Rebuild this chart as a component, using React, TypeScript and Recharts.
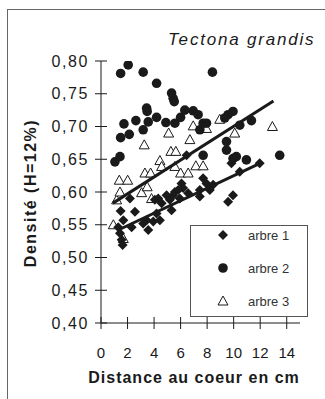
import { Scatter, ScatterChart, XAxis, YAxis } from "recharts";

// [distance (cm), densité]
const arbre1: [number, number][] = [
  [6.45, 0.656], [6.07, 0.613], [5.82, 0.603], [5.44, 0.595], [5.19, 0.588], [5.32, 0.572],
  [4.31, 0.59], [4.57, 0.583], [4.06, 0.588], [2.18, 0.59], [1.48, 0.571], [2.56, 0.57],
  [1.68, 0.557], [1.3, 0.546], [2.31, 0.546], [3.44, 0.557], [3.94, 0.555], [3.56, 0.542],
  [4.44, 0.557], [1.56, 0.527], [1.43, 0.537], [1.63, 0.519], [7.7, 0.621], [7.45, 0.603],
  [7.95, 0.613], [4.94, 0.595], [5.57, 0.6], [5.94, 0.59], [6.19, 0.606], [6.57, 0.598],
  [7.45, 0.593], [8.2, 0.603], [9.83, 0.644], [11.96, 0.644], [10.46, 0.631], [8.45, 0.611],
  [9.95, 0.595], [9.58, 0.585], [4.19, 0.567], [3.18, 0.552],
];

const arbre2: [number, number][] = [
  [1.48, 0.781], [2.05, 0.794], [3.18, 0.783], [4.19, 0.766], [5.32, 0.751], [5.44, 0.743],
  [5.52, 0.738], [3.44, 0.728], [3.48, 0.723], [4.19, 0.714], [2.63, 0.709], [1.73, 0.704],
  [3.56, 0.707], [3.18, 0.695], [4.89, 0.706], [5.57, 0.705], [6.0, 0.714], [6.32, 0.725],
  [6.95, 0.724], [7.32, 0.718], [7.7, 0.705], [7.45, 0.695], [2.13, 0.688], [1.48, 0.683],
  [1.05, 0.646], [1.43, 0.654], [8.4, 0.783], [7.95, 0.705], [9.58, 0.718], [9.95, 0.723],
  [9.33, 0.713], [10.46, 0.702], [11.34, 0.709], [9.46, 0.677], [9.46, 0.664], [9.95, 0.651],
  [13.47, 0.656], [10.2, 0.654], [10.96, 0.649], [7.7, 0.656],
];

const arbre3: [number, number][] = [
  [1.38, 0.618], [2.01, 0.618], [0.93, 0.55], [1.68, 0.529], [1.18, 0.588], [1.43, 0.6],
  [3.26, 0.672], [3.06, 0.599], [3.31, 0.629], [3.74, 0.629], [3.48, 0.608], [3.81, 0.59],
  [4.44, 0.648], [4.57, 0.639], [5.1, 0.69], [5.27, 0.662], [5.64, 0.662], [5.57, 0.639],
  [6.0, 0.629], [6.57, 0.629], [6.7, 0.68], [6.95, 0.701], [7.15, 0.64], [7.7, 0.64],
  [8.95, 0.711], [7.95, 0.697], [10.08, 0.69], [12.92, 0.7],
];

// trend line end points
const tendance1: [number, number][] = [[1.3, 0.542], [12.1, 0.645]];
const tendance3: [number, number][] = [[0.9, 0.583], [13.0, 0.739]];

const xTicks = [0, 2, 4, 6, 8, 10, 12, 14];
const yTicks = [0.4, 0.45, 0.5, 0.55, 0.6, 0.65, 0.7, 0.75, 0.8];

const legendLabels = ["arbre 1", "arbre 2", "arbre 3"];

const toPts = (arr: [number, number][]) => arr.map(([x, y]) => ({ x, y }));

const PLOT_LEFT = 101;
const PLOT_BOTTOM = 323;
const INK = "#1a1a1a";
const FONT = "'Liberation Sans', Arial, sans-serif";

const Diamond = ({ cx, cy }: any) => (
  <polygon points={`${cx},${cy - 5} ${cx + 5},${cy} ${cx},${cy + 5} ${cx - 5},${cy}`} fill={INK} />
);
const Dot = ({ cx, cy }: any) => <circle cx={cx} cy={cy} r={4.8} fill={INK} />;
const Tri = ({ cx, cy }: any) => (
  <polygon
    points={`${cx},${cy - 5} ${cx + 5},${cy + 4} ${cx - 5},${cy + 4}`}
    fill="#fff"
    stroke={INK}
    strokeWidth={1}
  />
);
const Nothing = () => <g />;

const YTick = ({ y, payload }: any) => (
  <g>
    <line x1={PLOT_LEFT - 6} x2={PLOT_LEFT + 6} y1={y} y2={y} stroke={INK} />
    <text
      x={PLOT_LEFT - 12}
      y={y}
      dy="0.35em"
      textAnchor="end"
      fontSize={16}
      letterSpacing={1.6}
      fill={INK}
      fontFamily={FONT}
    >
      {payload.value.toFixed(2).replace(".", ",")}
    </text>
  </g>
);

const XTick = ({ x, payload }: any) => (
  <g>
    <line x1={x} x2={x} y1={PLOT_BOTTOM - 6} y2={PLOT_BOTTOM + 6} stroke={INK} />
    <text x={x} y={PLOT_BOTTOM + 35} textAnchor="middle" fontSize={15} fill={INK} fontFamily={FONT}>
      {payload.value}
    </text>
  </g>
);

export default function App() {
  return (
    <div style={{ position: "fixed", left: 0, top: 0, width: 325, height: 399, background: "#fff", overflow: "hidden" }}>
      <div
        style={{
          position: "absolute",
          left: 7,
          top: 9,
          width: 330,
          height: 400,
          borderLeft: "1px solid #666",
          borderTop: "1px solid #666",
        }}
      />
      <div style={{ position: "absolute", left: 0, top: 0 }}>
        <ScatterChart width={325} height={399} margin={{ top: 61, right: 25, bottom: 46, left: 41 }}>
          <XAxis
            type="number"
            dataKey="x"
            domain={[0, 15]}
            ticks={xTicks}
            tick={<XTick />}
            tickLine={false}
            height={30}
            axisLine={{ stroke: INK }}
            allowDataOverflow
          />
          <YAxis
            type="number"
            dataKey="y"
            domain={[0.4, 0.8]}
            ticks={yTicks}
            tick={<YTick />}
            tickLine={false}
            width={60}
            axisLine={{ stroke: INK }}
            allowDataOverflow
          />
          <Scatter data={toPts(arbre3)} shape={<Tri />} isAnimationActive={false} />
          <Scatter data={toPts(arbre1)} shape={<Diamond />} isAnimationActive={false} />
          <Scatter data={toPts(arbre2)} shape={<Dot />} isAnimationActive={false} />
          <Scatter
            data={toPts(tendance1)}
            shape={<Nothing />}
            line={{ stroke: INK, strokeWidth: 3 }}
            isAnimationActive={false}
          />
          <Scatter
            data={toPts(tendance3)}
            shape={<Nothing />}
            line={{ stroke: INK, strokeWidth: 3 }}
            isAnimationActive={false}
          />
        </ScatterChart>
      </div>
      <div
        style={{
          position: "absolute",
          left: 168,
          top: 30,
          fontFamily: FONT,
          fontStyle: "italic",
          fontSize: 17,
          letterSpacing: 1.8,
          color: INK,
          whiteSpace: "nowrap",
        }}
      >
        Tectona grandis
      </div>
      <div
        style={{
          position: "absolute",
          left: 0,
          width: 388,
          top: 369,
          textAlign: "center",
          fontFamily: FONT,
          fontWeight: "bold",
          fontSize: 16,
          letterSpacing: 1,
          color: INK,
          whiteSpace: "nowrap",
        }}
      >
        Distance au coeur en cm
      </div>
      <div
        style={{
          position: "absolute",
          left: 31,
          top: 193,
          transform: "translate(-50%, -50%) rotate(-90deg)",
          fontFamily: FONT,
          fontWeight: "bold",
          fontSize: 16,
          letterSpacing: 1.5,
          color: INK,
          whiteSpace: "nowrap",
        }}
      >
        Densité (H=12%)
      </div>
      <svg
        style={{ position: "absolute", left: 190, top: 225 }}
        width={118}
        height={92}
      >
        <rect x={0.5} y={0.5} width={117} height={91} fill="#fff" stroke="#555" />
        {legendLabels.map((label, i) => {
          const cy = 10 + i * 33;
          return (
            <g key={label}>
              {i === 0 && <Diamond cx={33} cy={cy} />}
              {i === 1 && <Dot cx={33} cy={cy} />}
              {i === 2 && <Tri cx={33} cy={cy} />}
              <text x={58} y={cy} dy="0.35em" fontSize={13} fill="#333" fontFamily={FONT}>
                {label}
              </text>
            </g>
          );
        })}
      </svg>
    </div>
  );
}
